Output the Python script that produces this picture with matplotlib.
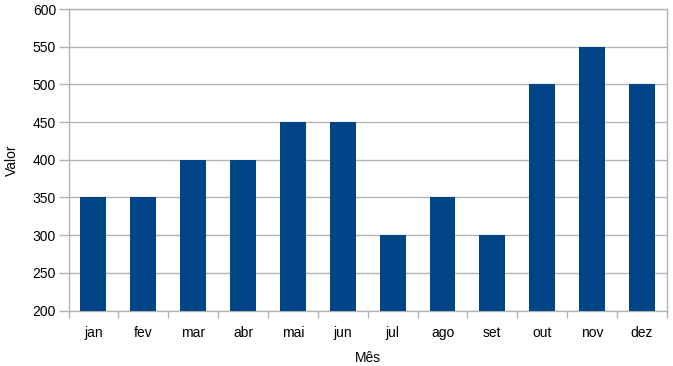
import numpy as np
import matplotlib.pyplot as plt

# --- data ---
meses = ["jan", "fev", "mar", "abr", "mai", "jun", "jul", "ago", "set", "out", "nov", "dez"]
valores = [350, 350, 400, 400, 450, 450, 300, 350, 300, 500, 550, 500]

plt.rcParams['font.family'] = ['Liberation Sans', 'DejaVu Sans']

fig = plt.figure(figsize=(6.73, 3.66), dpi=100)
ax = fig.add_axes([0.1018, 0.1516, 0.8892, 0.8238])

x = np.arange(len(meses))
ax.bar(x, valores, width=0.52, color="#004586", zorder=3)

ax.set_xlim(-0.5, len(meses) - 0.5)
ax.set_ylim(200, 600)
ax.set_yticks(np.arange(200, 601, 50))
ax.set_xticks(x)
ax.set_xticklabels(meses)
ax.set_xticks(np.arange(-0.5, len(meses), 1), minor=True)

gray = "#b3b3b3"
ax.grid(axis="y", color=gray, linewidth=1, zorder=0)
for s in ax.spines.values():
    s.set_color(gray)
    s.set_linewidth(1)

ax.tick_params(axis="x", which="major", length=0, pad=11, labelsize=10)
ax.tick_params(axis="x", which="minor", length=5, color=gray, width=1)
ax.tick_params(axis="y", length=7, color=gray, width=1, pad=2, labelsize=10)

ax.set_xlabel("Mês", fontsize=10, labelpad=8)
ax.set_ylabel("Valor", fontsize=10, labelpad=10)

plt.savefig("out.png", dpi=100)
